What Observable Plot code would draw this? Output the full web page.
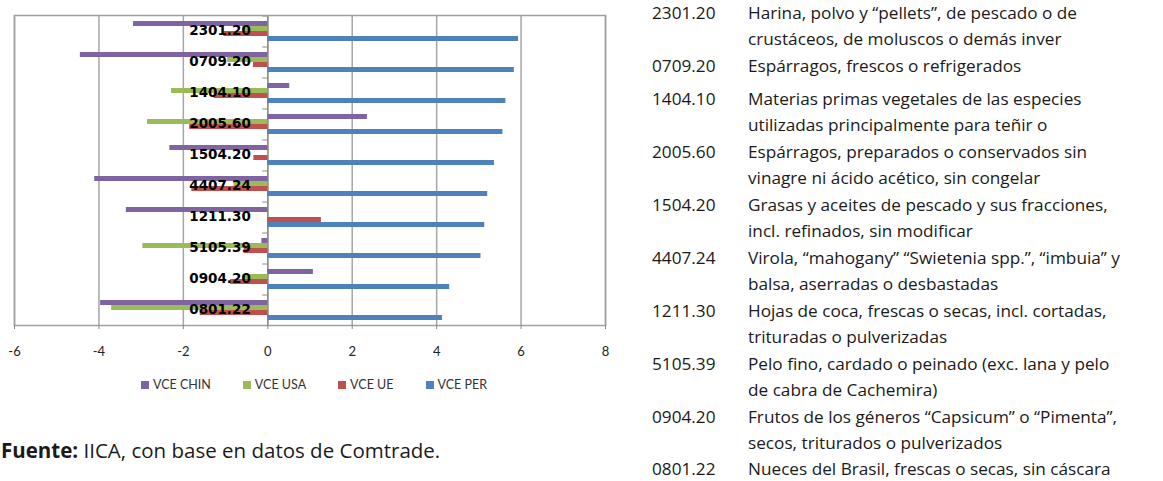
<!DOCTYPE html>
<html>
<head>
<meta charset="utf-8">
<script src="https://cdn.jsdelivr.net/npm/d3@7"></script>
<script src="https://cdn.jsdelivr.net/npm/@observablehq/plot@0.6"></script>
<style>
  html, body { margin: 0; padding: 0; background: #fff; }
  body { width: 1163px; height: 481px; position: relative; overflow: hidden; font-family: "Open Sans", Lato, sans-serif; color: #1a1a1a; }
  #chart { position: absolute; left: 0; top: 0; }
  #legend { position: absolute; left: 0; width: 628px; top: 377px; display: flex; justify-content: center; gap: 32px; font-family: Lato, sans-serif; font-size: 12.5px; color: #333; }
  #legend .item { display: flex; align-items: center; gap: 4px; }
  #legend .sw { width: 8px; height: 8px; display: inline-block; }
  #source { position: absolute; left: 1px; top: 436px; font-size: 20.5px; }
  #table { position: absolute; left: 652px; top: 0px; font-size: 17.2px; line-height: 26.2px; }
  #table .row { display: flex; margin-bottom: 0.5px; }
  #table .row:nth-child(2) { margin-bottom: 7px; }
  #table .code { width: 96px; flex: none; }
</style>
</head>
<body>
<div id="chart"></div>
<div id="legend"></div>
<div id="source"><b>Fuente:</b> IICA, con base en datos de Comtrade.</div>
<div id="table"></div>
<script>
const codes = ["2301.20","0709.20","1404.10","2005.60","1504.20","4407.24","1211.30","5105.39","0904.20","0801.22"];
const seriesNames = ["VCE CHIN","VCE USA","VCE UE","VCE PER"];
const vceChin = [-3.18, -4.44, 0.52, 2.36, -2.32, -4.10, -3.35, -0.14, 1.08, -3.96];
const vceUsa  = [-0.60, -0.95, -2.28, -2.85, 0.03, -0.80, 0.00, -2.96, -0.60, -3.70];
const vceUe   = [-1.04, -0.34, -1.27, -1.85, -0.33, -1.80, 1.27, -0.56, -0.88, -1.60];
const vcePer  = [5.94, 5.84, 5.64, 5.57, 5.37, 5.21, 5.14, 5.05, 4.31, 4.14];
const seriesColors = ["#8064A2","#9BBB59","#C0504D","#4F81BD"];
const xTicks = [-6,-4,-2,0,2,4,6,8];
const descriptions = [
  ["Harina, polvo y “pellets”, de pescado o de", "crustáceos, de moluscos o demás inver"],
  ["Espárragos, frescos o refrigerados"],
  ["Materias primas vegetales de las especies", "utilizadas principalmente para teñir o"],
  ["Espárragos, preparados o conservados sin", "vinagre ni ácido acético, sin congelar"],
  ["Grasas y aceites de pescado y sus fracciones,", "incl. refinados, sin modificar"],
  ["Virola, “mahogany” “Swietenia spp.”, “imbuia” y", "balsa, aserradas o desbastadas"],
  ["Hojas de coca, frescas o secas, incl. cortadas,", "trituradas o pulverizadas"],
  ["Pelo fino, cardado o peinado (exc. lana y pelo", "de cabra de Cachemira)"],
  ["Frutos de los géneros “Capsicum” o “Pimenta”,", "secos, triturados o pulverizados"],
  ["Nueces del Brasil, frescas o secas, sin cáscara"]
];

const valuesBySeries = [vceChin, vceUsa, vceUe, vcePer];
const data = [];
codes.forEach((c, i) => {
  seriesNames.forEach((s, j) => data.push({code: c, series: s, value: valuesBySeries[j][i]}));
});

const chart = Plot.plot({
  width: 620,
  height: 365,
  marginLeft: 14,
  marginRight: 15,
  marginTop: 15,
  marginBottom: 40,
  style: {fontFamily: "Lato, 'Open Sans', sans-serif", fontSize: "13px", color: "#222", background: "#fff"},
  x: {domain: [-6, 8], axis: null},
  y: {domain: seriesNames, paddingInner: 0, paddingOuter: 1.1, axis: null},
  fy: {domain: codes, padding: 0, axis: null},
  color: {domain: seriesNames, range: seriesColors},
  marks: [
    Plot.ruleX(xTicks, {stroke: "#A6A6A6", strokeWidth: 1.5}),
    Plot.ruleX([0], {stroke: "#8C8C8C", strokeWidth: 1.5}),
    Plot.ruleY(codes, {fy: d => d, y: () => seriesNames[0], x1: -0.12, x2: 0, dy: -8, stroke: "#8C8C8C", strokeWidth: 1}),
    Plot.barX(data, {fy: "code", y: "series", x1: 0, x2: "value", fill: "series"}),
    Plot.text(codes, {fy: d => d, x: 0, text: d => d, dx: -17, textAnchor: "end", fontFamily: "'DejaVu Sans', Verdana, sans-serif", fontWeight: "bold", fontSize: 13.5, fill: "#000"}),
    Plot.frame({facet: "super", stroke: "#A0A0A0", strokeWidth: 1.5}),
    Plot.axisX({ticks: xTicks, tickSize: 4, tickPadding: 17, tickFormat: d => String(d).replace("−","-"), stroke: "#888", fill: "#222", label: null, fontSize: 13})
  ]
});
document.getElementById("chart").appendChild(chart);

const legend = document.getElementById("legend");
seriesNames.forEach((s, i) => {
  const item = document.createElement("div");
  item.className = "item";
  item.innerHTML = `<span class="sw" style="background:${seriesColors[i]}"></span><span>${s}</span>`;
  legend.appendChild(item);
});

const table = document.getElementById("table");
codes.forEach((c, i) => {
  const row = document.createElement("div");
  row.className = "row";
  row.innerHTML = `<div class="code">${c}</div><div class="desc">${descriptions[i].join("<br>")}</div>`;
  table.appendChild(row);
});
</script>
</body>
</html>
